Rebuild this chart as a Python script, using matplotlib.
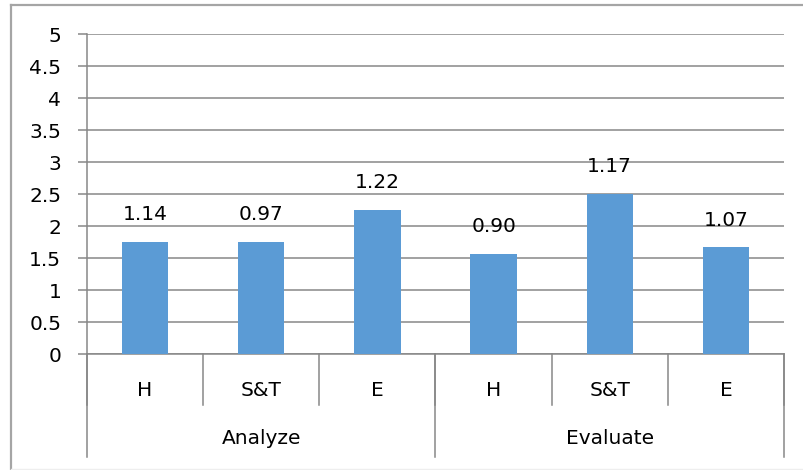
import matplotlib
matplotlib.use("Agg")
from matplotlib import pyplot as plt
from matplotlib.lines import Line2D

# bar heights (means) and the numbers printed above each bar
groups = ["Analyze", "Evaluate"]
subjects = ["H", "S&T", "E", "H", "S&T", "E"]
means = [1.75, 1.75, 2.25, 1.57, 2.5, 1.67]
labels = ["1.14", "0.97", "1.22", "0.90", "1.17", "1.07"]
yticks = [0, 0.5, 1, 1.5, 2, 2.5, 3, 3.5, 4, 4.5, 5]

plt.rcParams['font.family'] = ['DejaVu Sans']
fs = 14.5
grid_c = '#878787'
bar_c = '#5b9bd5'

fig = plt.figure(figsize=(8.04, 4.70), dpi=100)
ax = fig.add_axes([87 / 804, 1 - 354 / 470, 697 / 804, 320 / 470])

x = list(range(len(means)))
ax.bar(x, means, width=0.4, color=bar_c, zorder=3)

for xi, m, lab in zip(x, means, labels):
    ax.annotate(lab, (xi, m), xytext=(0, 19.5), textcoords='offset points',
                ha='center', va='center', fontsize=fs, color='black', zorder=4)

ax.set_xlim(-0.5, len(means) - 0.5)
ax.set_ylim(0, 5)
ax.set_yticks(yticks)
ax.set_yticklabels([f"{t:g}" for t in yticks], fontsize=fs)
ax.yaxis.grid(True, color=grid_c, linewidth=1.1, zorder=0)
ax.tick_params(axis='y', length=6.5, width=1.1, color=grid_c, pad=12)
ax.set_xticks([])

for side in ['top', 'right']:
    ax.spines[side].set_visible(False)
for side in ['left', 'bottom']:
    ax.spines[side].set_color(grid_c)
    ax.spines[side].set_linewidth(1.1)

trans = ax.get_xaxis_transform()

# subject labels and the dividers between them
for xi, s in zip(x, subjects):
    ax.text(xi, -0.1125, s, transform=trans, ha='center', va='center',
            fontsize=fs)
for i in range(len(means) + 1):
    ax.add_line(Line2D([i - 0.5, i - 0.5], [0, -0.16], transform=trans,
                       color=grid_c, linewidth=1.1, clip_on=False))

# group labels
n = len(subjects) // len(groups)
for g, name in enumerate(groups):
    ax.text(g * n + (n - 1) / 2, -0.2625, name, transform=trans,
            ha='center', va='center', fontsize=fs)
for g in range(len(groups) + 1):
    ax.add_line(Line2D([g * n - 0.5, g * n - 0.5], [0, -0.322],
                       transform=trans, color=grid_c, linewidth=1.1,
                       clip_on=False))

# chart frame
fig.add_artist(Line2D([11.5 / 804, 11.5 / 804], [1 - 469 / 470, 1 - 5 / 470],
                      transform=fig.transFigure, color='#a5a5a5', linewidth=1.6))
fig.add_artist(Line2D([11.5 / 804, 1], [1 - 5 / 470, 1 - 5 / 470],
                      transform=fig.transFigure, color='#a5a5a5', linewidth=1.6))
fig.add_artist(Line2D([11.5 / 804, 1], [1 - 469 / 470, 1 - 469 / 470],
                      transform=fig.transFigure, color='#eeeeee', linewidth=1))

fig.savefig("out.png", dpi=100)
